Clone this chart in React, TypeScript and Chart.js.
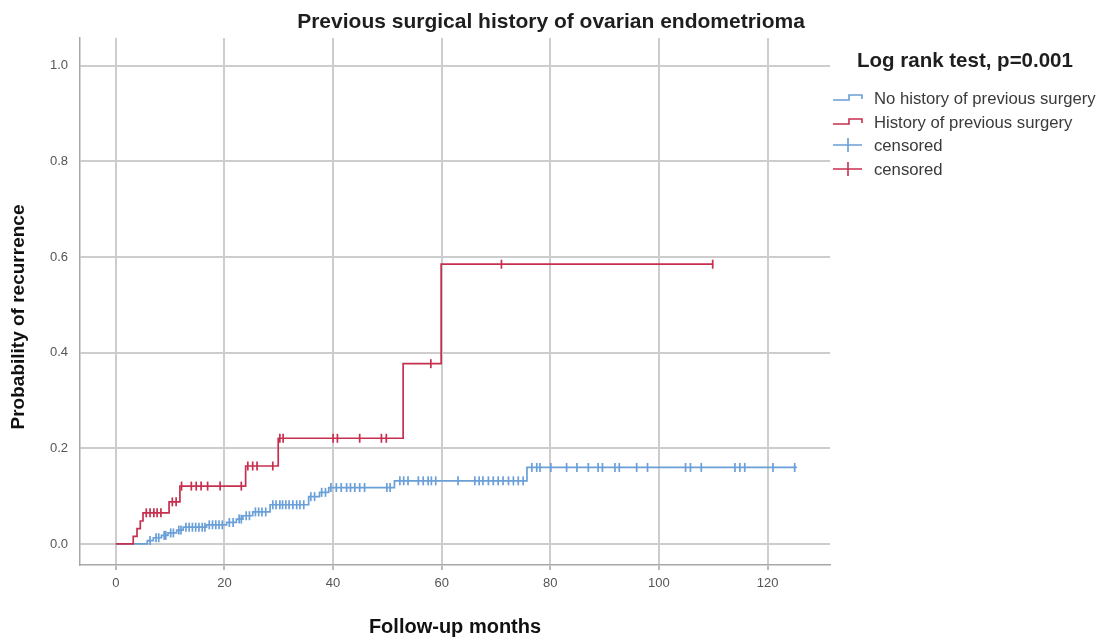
import React, { useEffect, useRef } from "react";
import { Chart, registerables } from "chart.js";

Chart.register(...registerables);

const BLUE = "#6a9fd8";
const RED = "#c6304f";
const FONT = "'Liberation Sans', Arial, sans-serif";

const chartTitle = "Previous surgical history of ovarian endometrioma";
const xAxisTitle = "Follow-up months";
const yAxisTitle = "Probability of recurrence";
const legendTitle = "Log rank test, p=0.001";
const seriesLabels = ["No history of previous surgery", "History of previous surgery", "censored", "censored"];

const xTicks = [0, 20, 40, 60, 80, 100, 120];
const yTicks = [0, 0.2, 0.4, 0.6, 0.8, 1.0];

// Kaplan-Meier steps: event time (months) and cumulative probability of recurrence after it
const noHistTimes = [0, 5.8, 6.9, 8.4, 9.6, 11.2, 12.4, 16.7, 20.4, 22.2, 23.4, 25.2, 28.4, 35.5, 37.5, 39.2, 51.3, 75.7, 125.4];
const noHistProb = [0, 0.007, 0.013, 0.018, 0.023, 0.029, 0.035, 0.040, 0.045, 0.052, 0.059, 0.067, 0.082, 0.099, 0.108, 0.118, 0.132, 0.16, 0.16];
const noHistCensored = [
  6.3, 7.4, 7.9, 8.9, 9.2, 10.1, 10.6, 11.6, 12.0, 12.9, 13.5, 14.1, 14.7, 15.3, 15.9, 16.4, 17.2, 17.8, 18.4, 19.0, 19.6,
  20.9, 21.6, 22.7, 23.1, 24.0, 24.6, 25.7, 26.3, 26.9, 27.6, 28.9, 29.5, 30.2, 30.7, 31.3, 31.9, 32.6, 33.3, 33.9, 34.6,
  35.9, 36.6, 37.9, 38.6, 39.6,
  40.6, 41.5, 42.5, 43.2, 44.0, 44.9, 45.8, 49.9, 50.5, 52.3, 53.0, 53.8, 55.7, 56.6, 57.5, 58.1, 58.9, 63.0,
  66.1, 66.9, 67.6, 68.6, 69.5, 70.4, 71.3, 72.3, 73.2, 74.1, 75.0,
  76.6, 77.5, 78.1, 80.1, 83.0, 84.9, 87.0, 88.8, 89.6, 91.9, 92.7, 95.9, 97.9, 104.9, 105.8, 107.8, 114.0, 114.9, 115.8,
  121.0, 125.0,
];

const histTimes = [0, 3.2, 3.9, 4.5, 5.0, 9.8, 11.8, 23.9, 29.9, 52.9, 59.9, 110.0];
const histProb = [0, 0.016, 0.032, 0.048, 0.065, 0.088, 0.121, 0.163, 0.221, 0.377, 0.585, 0.585];
const histCensored = [
  5.6, 6.3, 7.0, 7.6, 8.3, 10.4, 11.1, 12.1, 13.9, 14.8, 15.7, 16.9, 19.2, 23.1, 24.3, 25.2, 26.0, 28.9, 30.2, 30.8,
  40.0, 40.8, 44.9, 48.9, 49.8, 58.0, 71.0, 109.9,
];

// value of a step curve at time t
function levelAt(times: number[], probs: number[], t: number) {
  let v = probs[0];
  for (let i = 0; i < times.length; i++) if (times[i] <= t) v = probs[i];
  return v;
}

const curve = (times: number[], probs: number[]) => times.map((t, i) => ({ x: t, y: probs[i] }));
const marks = (cens: number[], times: number[], probs: number[]) =>
  cens.map((t) => ({ x: t, y: levelAt(times, probs, t) }));

// Title, axis titles and the legend block, drawn onto the canvas
const decorations = {
  id: "decorations",
  afterDraw(chart: any) {
    const ctx = chart.ctx as CanvasRenderingContext2D;
    const area = chart.chartArea;
    ctx.save();
    ctx.textBaseline = "middle";

    ctx.fillStyle = "#1e1e1e";
    ctx.textAlign = "center";
    ctx.font = `bold 21px ${FONT}`;
    ctx.fillText(chartTitle, 551, 22);

    ctx.fillStyle = "#111";
    ctx.font = `bold 20px ${FONT}`;
    ctx.fillText(xAxisTitle, (area.left + area.right) / 2, 627);
    ctx.save();
    ctx.translate(19, 317);
    ctx.rotate(-Math.PI / 2);
    ctx.font = `bold 19px ${FONT}`;
    ctx.fillText(yAxisTitle, 0, 0);
    ctx.restore();

    ctx.textAlign = "left";
    ctx.fillStyle = "#1e1e1e";
    ctx.font = `bold 20.5px ${FONT}`;
    ctx.fillText(legendTitle, 857, 61);

    const rows = [98, 122, 145, 169];
    const colors = [BLUE, RED, BLUE, RED];
    ctx.font = `16.7px ${FONT}`;
    rows.forEach((y, i) => {
      ctx.strokeStyle = colors[i];
      ctx.lineWidth = 1.6;
      ctx.beginPath();
      if (i < 2) {
        ctx.moveTo(833, y + 2);
        ctx.lineTo(849, y + 2);
        ctx.lineTo(849, y - 3);
        ctx.lineTo(862, y - 3);
        ctx.lineTo(862, y + 1);
      } else {
        ctx.moveTo(833, y);
        ctx.lineTo(862, y);
        ctx.moveTo(848, y - 7);
        ctx.lineTo(848, y + 7);
      }
      ctx.stroke();
      ctx.fillStyle = "#3a3a3a";
      ctx.fillText(seriesLabels[i], 874, y + 1);
    });
    ctx.restore();
  },
};

export default function App() {
  const ref = useRef<HTMLCanvasElement | null>(null);

  useEffect(() => {
    const canvas = ref.current;
    if (!canvas) return;
    const chart = new Chart(canvas, {
      type: "line",
      data: {
        datasets: [
          {
            label: seriesLabels[1],
            data: curve(histTimes, histProb),
            stepped: "before",
            borderColor: RED,
            borderWidth: 1.7,
            pointRadius: 0,
            fill: false,
            order: 0,
          },
          {
            label: seriesLabels[3],
            data: marks(histCensored, histTimes, histProb),
            showLine: false,
            pointStyle: "line",
            rotation: 90,
            pointRadius: 4.5,
            borderColor: RED,
            backgroundColor: RED,
            pointBorderWidth: 1.7,
            order: 1,
          },
          {
            label: seriesLabels[0],
            data: curve(noHistTimes, noHistProb),
            stepped: "before",
            borderColor: BLUE,
            borderWidth: 1.7,
            pointRadius: 0,
            fill: false,
            order: 2,
          },
          {
            label: seriesLabels[2],
            data: marks(noHistCensored, noHistTimes, noHistProb),
            showLine: false,
            pointStyle: "line",
            rotation: 90,
            pointRadius: 4.5,
            borderColor: BLUE,
            backgroundColor: BLUE,
            pointBorderWidth: 1.7,
            order: 3,
          },
        ] as any,
      },
      options: {
        animation: false,
        responsive: false,
        layout: { padding: { top: 38, right: 275, left: 0, bottom: 0 } },
        plugins: {
          legend: { display: false },
          title: { display: false },
          tooltip: { enabled: false },
        },
        scales: {
          x: {
            type: "linear",
            min: -6.6,
            max: 131.5,
            afterBuildTicks: (s: any) => {
              s.ticks = xTicks.map((v) => ({ value: v }));
            },
            afterFit: (s: any) => {
              s.height = 73;
            },
            ticks: {
              color: "#555",
              font: { family: FONT, size: 13 },
              padding: 6,
              maxRotation: 0,
              callback: (v: any) => String(v),
            },
            grid: { color: "#cdcdcd", lineWidth: 2, tickLength: 5, tickColor: "#bbb" },
            border: { color: "#a8a8a8", width: 1.5 },
          },
          y: {
            type: "linear",
            min: -0.044,
            max: 1.058,
            afterBuildTicks: (s: any) => {
              s.ticks = yTicks.map((v) => ({ value: v }));
            },
            afterFit: (s: any) => {
              s.width = 80;
            },
            ticks: {
              color: "#555",
              font: { family: FONT, size: 13 },
              padding: 12,
              callback: (v: any) => Number(v).toFixed(1),
            },
            grid: { color: "#cdcdcd", lineWidth: 2, drawTicks: false },
            border: { color: "#a8a8a8", width: 1.5 },
          },
        },
      } as any,
      plugins: [decorations],
    });
    return () => chart.destroy();
  }, []);

  return (
    <div style={{ position: "fixed", left: 0, top: 0, width: 1105, height: 638, background: "#fff" }}>
      <canvas ref={ref} width={1105} height={638} style={{ width: 1105, height: 638, display: "block" }} />
    </div>
  );
}
